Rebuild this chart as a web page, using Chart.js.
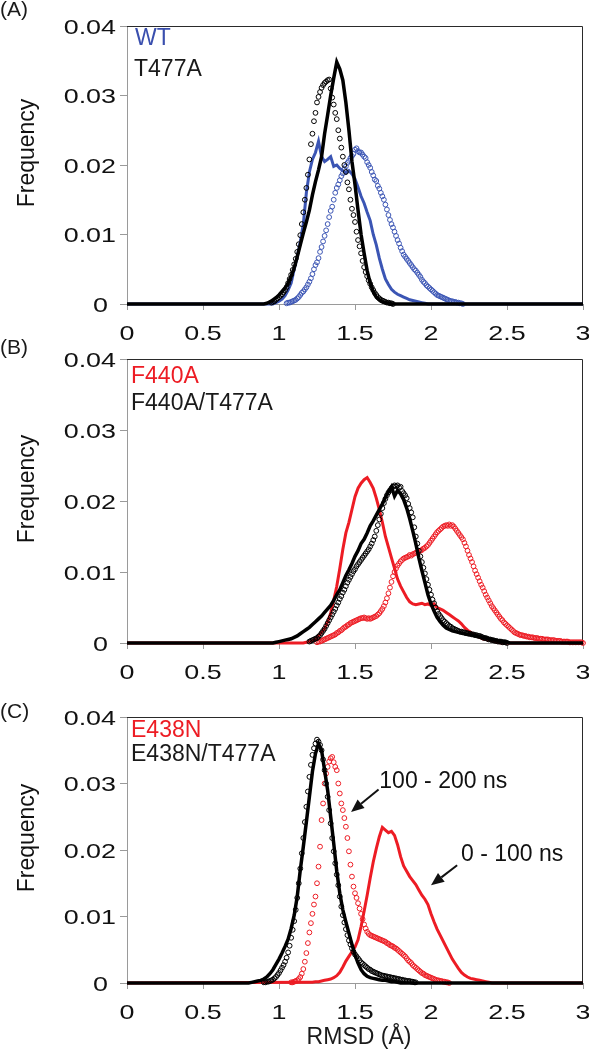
<!DOCTYPE html>
<html>
<head>
<meta charset="utf-8">
<script src="https://cdn.jsdelivr.net/npm/chart.js@4.4.1/dist/chart.umd.min.js"></script>
<style>
  body { margin: 0; background: #fff; }
  #page { position: relative; width: 589px; height: 1050px; font-family: "Liberation Sans", Arial, sans-serif; }
  canvas { position: absolute; left: 0; }
  .txt { position: absolute; font-size: 23px; line-height: 23px; white-space: nowrap; color: #1a1a1a; }
  .tag { font-size: 21px; line-height: 21px; }
  .blue { color: #3a4fae; }
  .red { color: #ed1c24; }
</style>
</head>
<body>
<div id="page">
  <canvas id="chartA" width="589" height="345" style="top:0;width:589px;height:345px"></canvas>
  <canvas id="chartB" width="589" height="345" style="top:340px;width:589px;height:345px"></canvas>
  <canvas id="chartC" width="589" height="360" style="top:690px;width:589px;height:360px"></canvas>

  <div class="txt tag" style="left:0;top:-2px">(A)</div>
  <div class="txt blue" style="left:135px;top:26px">WT</div>
  <div class="txt" style="left:134px;top:57px">T477A</div>

  <div class="txt tag" style="left:0;top:336px">(B)</div>
  <div class="txt red" style="left:131px;top:364px">F440A</div>
  <div class="txt" style="left:131px;top:391px">F440A/T477A</div>

  <div class="txt tag" style="left:0;top:700px">(C)</div>
  <div class="txt red" style="left:131px;top:718px">E438N</div>
  <div class="txt" style="left:131px;top:742px">E438N/T477A</div>

  <div class="txt" style="left:259px;width:200px;text-align:center;top:1025px">RMSD (Å)</div>
</div>

<script>
// axis labels
const xTickLabels = ['0', '0.5', '1', '1.5', '2', '2.5', '3'];
const yTickLabels = ['0', '0.01', '0.02', '0.03', '0.04'];
const rmsdRange = [0, 3];

// histogram bins: lines (0-100 ns) every 0.02 A, circles (100-200 ns) every 0.01 A
// panel A
const wtLineStart = 0.96;
const wtLine = [0, 0.0002, 0.0004, 0.0007, 0.0012, 0.0020, 0.0030, 0.0050, 0.0068, 0.0090,
  0.0115, 0.0160, 0.0190, 0.0208, 0.0218, 0.0234, 0.0212, 0.0205, 0.0208, 0.0212,
  0.0198, 0.0200, 0.0195, 0.0192, 0.0188, 0.0192, 0.0187, 0.0180, 0.0168, 0.0155,
  0.0145, 0.0132, 0.0120, 0.0100, 0.0085, 0.0066, 0.0050, 0.0036, 0.0028, 0.0021,
  0.0017, 0.0014, 0.0012, 0.0010, 0.0008, 0.0006, 0.0005, 0.0004, 0.0003, 0.0002,
  0.0001, 0];
const wtDotsStart = 1.05;
const wtDots = [0.0001, 0.0002, 0.0002, 0.0003, 0.0004, 0.0005, 0.0006, 0.0008, 0.0010, 0.0013,
  0.0016, 0.0018, 0.0021, 0.0024, 0.0028, 0.0032, 0.0037, 0.0043, 0.0050, 0.0056,
  0.0060, 0.0066, 0.0075, 0.0082, 0.0090, 0.0098, 0.0106, 0.0115, 0.0125, 0.0134,
  0.0140, 0.0150, 0.0160, 0.0167, 0.0172, 0.0178, 0.0184, 0.0188, 0.0194, 0.0198,
  0.0203, 0.0206, 0.0210, 0.0213, 0.0216, 0.0222, 0.0224, 0.0220, 0.0218, 0.0218,
  0.0215, 0.0212, 0.0210, 0.0204, 0.0200, 0.0196, 0.0190, 0.0185, 0.0179, 0.0177,
  0.0170, 0.0166, 0.0160, 0.0155, 0.0150, 0.0143, 0.0136, 0.0128, 0.0121, 0.0115,
  0.0110, 0.0104, 0.0098, 0.0092, 0.0087, 0.0081, 0.0076, 0.0071, 0.0068, 0.0065,
  0.0062, 0.0059, 0.0056, 0.0053, 0.0050, 0.0048, 0.0045, 0.0042, 0.0039, 0.0035,
  0.0032, 0.0030, 0.0027, 0.0025, 0.0023, 0.0021, 0.0019, 0.0017, 0.0015, 0.0013,
  0.0012, 0.0011, 0.0010, 0.0009, 0.0008, 0.0007, 0.0006, 0.0005, 0.0004, 0.0004,
  0.0003, 0.0003, 0.0002, 0.0002, 0.0001, 0.0001, 0];
const t477aLineStart = 0.90;
const t477aLine = [0, 0.0001, 0.0003, 0.0006, 0.0009, 0.0013, 0.0018, 0.0023, 0.0030, 0.0040,
  0.0052, 0.0068, 0.0085, 0.0102, 0.0118, 0.0135, 0.0157, 0.0176, 0.0193, 0.0212,
  0.0245, 0.0272, 0.0300, 0.0325, 0.0348, 0.0338, 0.0322, 0.0290, 0.0250, 0.0205,
  0.0172, 0.0135, 0.0100, 0.0073, 0.0048, 0.0030, 0.0018, 0.0010, 0.0006, 0.0003,
  0.0002, 0.0001, 0];
const t477aDotsStart = 0.95;
const t477aDots = [0.0002, 0.0003, 0.0004, 0.0006, 0.0008, 0.0010, 0.0012, 0.0014, 0.0017, 0.0020,
  0.0024, 0.0030, 0.0036, 0.0042, 0.0049, 0.0057, 0.0065, 0.0075, 0.0086, 0.0099,
  0.0115, 0.0132, 0.0150, 0.0167, 0.0186, 0.0208, 0.0230, 0.0245, 0.0263, 0.0275,
  0.0290, 0.0298, 0.0305, 0.0311, 0.0315, 0.0318, 0.0320, 0.0322, 0.0323, 0.0310,
  0.0297, 0.0287, 0.0275, 0.0266, 0.0250, 0.0238, 0.0225, 0.0212, 0.0200, 0.0190,
  0.0175, 0.0165, 0.0150, 0.0137, 0.0128, 0.0118, 0.0104, 0.0092, 0.0083, 0.0073,
  0.0062, 0.0053, 0.0046, 0.0040, 0.0034, 0.0029, 0.0024, 0.0020, 0.0016, 0.0013,
  0.0010, 0.0008, 0.0006, 0.0005, 0.0004, 0.0003, 0.0002, 0.0002, 0.0001, 0.0001, 0];

// panel B
const f440aLineStart = 1.16;
const f440aLine = [0, 0.0001, 0.0002, 0.0003, 0.0006, 0.0010, 0.0015, 0.0020, 0.0030, 0.0042,
  0.0060, 0.0080, 0.0105, 0.0132, 0.0155, 0.0170, 0.0188, 0.0206, 0.0218, 0.0225,
  0.0230, 0.0233, 0.0226, 0.0218, 0.0204, 0.0188, 0.0170, 0.0150, 0.0135, 0.0120,
  0.0105, 0.0090, 0.0080, 0.0072, 0.0064, 0.0058, 0.0055, 0.0054, 0.0055, 0.0056,
  0.0054, 0.0055, 0.0053, 0.0055, 0.0050, 0.0048, 0.0046, 0.0043, 0.0040, 0.0037,
  0.0034, 0.0031, 0.0027, 0.0022, 0.0018, 0.0015, 0.0012, 0.0010, 0.0008, 0.0006,
  0.0005, 0.0004, 0.0003, 0.0002, 0.0001, 0];
const f440aDotsStart = 1.25;
const f440aDots = [0.0001, 0.0002, 0.0002, 0.0003, 0.0004, 0.0005, 0.0006, 0.0007, 0.0008, 0.0009,
  0.0010, 0.0011, 0.0012, 0.0014, 0.0015, 0.0017, 0.0018, 0.0020, 0.0022, 0.0023,
  0.0025, 0.0026, 0.0028, 0.0029, 0.0030, 0.0031, 0.0032, 0.0033, 0.0034, 0.0035,
  0.0035, 0.0036, 0.0035, 0.0034, 0.0035, 0.0034, 0.0035, 0.0036, 0.0037, 0.0038,
  0.0040, 0.0042, 0.0045, 0.0048, 0.0052, 0.0057, 0.0063, 0.0070, 0.0078, 0.0086,
  0.0094, 0.0100, 0.0105, 0.0109, 0.0112, 0.0115, 0.0117, 0.0119, 0.0120, 0.0121,
  0.0122, 0.0124, 0.0123, 0.0125, 0.0126, 0.0127, 0.0128, 0.0129, 0.0130, 0.0131,
  0.0133, 0.0134, 0.0136, 0.0138, 0.0141, 0.0144, 0.0147, 0.0150, 0.0153, 0.0156,
  0.0158, 0.0160, 0.0162, 0.0164, 0.0165, 0.0166, 0.0165, 0.0167, 0.0165, 0.0166,
  0.0164, 0.0161, 0.0158, 0.0155, 0.0152, 0.0149, 0.0146, 0.0141, 0.0136, 0.0130,
  0.0124, 0.0119, 0.0114, 0.0108, 0.0102, 0.0097, 0.0092, 0.0087, 0.0082, 0.0078,
  0.0073, 0.0068, 0.0064, 0.0060, 0.0056, 0.0052, 0.0049, 0.0046, 0.0043, 0.0040,
  0.0037, 0.0034, 0.0032, 0.0029, 0.0027, 0.0025, 0.0023, 0.0021, 0.0019, 0.0017,
  0.0015, 0.0014, 0.0013, 0.0012, 0.0011, 0.0011, 0.0010, 0.0010, 0.0009, 0.0009,
  0.0008, 0.0008, 0.0008, 0.0007, 0.0007, 0.0007, 0.0006, 0.0006, 0.0006, 0.0005,
  0.0005, 0.0005, 0.0005, 0.0004, 0.0004, 0.0004, 0.0004, 0.0003, 0.0003, 0.0003,
  0.0003, 0.0002, 0.0002, 0.0002, 0.0002, 0.0002, 0.0001, 0.0001, 0.0001, 0.0001,
  0.0001, 0.0001, 0.0001, 0.0001, 0.0001, 0];
const f440aT477aLineStart = 0.96;
const f440aT477aLine = [0, 0.0001, 0.0002, 0.0003, 0.0004, 0.0005, 0.0006, 0.0008, 0.0010, 0.0013,
  0.0016, 0.0019, 0.0022, 0.0026, 0.0030, 0.0034, 0.0038, 0.0043, 0.0048, 0.0053,
  0.0060, 0.0068, 0.0075, 0.0085, 0.0095, 0.0103, 0.0112, 0.0122, 0.0130, 0.0140,
  0.0146, 0.0155, 0.0165, 0.0172, 0.0180, 0.0188, 0.0196, 0.0205, 0.0213, 0.0220,
  0.0207, 0.0215, 0.0210, 0.0202, 0.0190, 0.0175, 0.0158, 0.0140, 0.0120, 0.0102,
  0.0085, 0.0068, 0.0055, 0.0045, 0.0036, 0.0030, 0.0025, 0.0021, 0.0019, 0.0017,
  0.0016, 0.0015, 0.0014, 0.0013, 0.0012, 0.0012, 0.0011, 0.0010, 0.0009, 0.0008,
  0.0007, 0.0006, 0.0005, 0.0004, 0.0003, 0.0002, 0.0002, 0.0001, 0];
const f440aT477aDotsStart = 1.20;
const f440aT477aDots = [0.0002, 0.0003, 0.0004, 0.0005, 0.0006, 0.0007, 0.0009, 0.0011, 0.0014, 0.0017,
  0.0020, 0.0024, 0.0028, 0.0032, 0.0036, 0.0040, 0.0044, 0.0048, 0.0053, 0.0057,
  0.0062, 0.0066, 0.0071, 0.0075, 0.0080, 0.0085, 0.0089, 0.0093, 0.0097, 0.0101,
  0.0104, 0.0108, 0.0111, 0.0114, 0.0117, 0.0120, 0.0123, 0.0126, 0.0129, 0.0132,
  0.0136, 0.0140, 0.0145, 0.0150, 0.0158, 0.0166, 0.0174, 0.0182, 0.0190, 0.0197,
  0.0203, 0.0208, 0.0212, 0.0215, 0.0218, 0.0220, 0.0222, 0.0221, 0.0222, 0.0219,
  0.0220, 0.0214, 0.0211, 0.0208, 0.0204, 0.0196, 0.0190, 0.0184, 0.0177, 0.0163,
  0.0150, 0.0140, 0.0130, 0.0122, 0.0114, 0.0106, 0.0098, 0.0090, 0.0082, 0.0075,
  0.0068, 0.0061, 0.0056, 0.0050, 0.0045, 0.0041, 0.0038, 0.0035, 0.0032, 0.0030,
  0.0028, 0.0026, 0.0024, 0.0023, 0.0021, 0.0020, 0.0019, 0.0018, 0.0017, 0.0016,
  0.0016, 0.0015, 0.0015, 0.0014, 0.0014, 0.0013, 0.0013, 0.0012, 0.0012, 0.0011,
  0.0011, 0.0010, 0.0010, 0.0009, 0.0008, 0.0007, 0.0007, 0.0006, 0.0005, 0.0005,
  0.0004, 0.0004, 0.0003, 0.0003, 0.0002, 0.0002, 0.0002, 0.0001, 0.0001, 0.0001, 0];

// panel C
const e438nLineStart = 1.20;
const e438nLine = [0.0001, 0.0001, 0.0002, 0.0002, 0.0003, 0.0004, 0.0005, 0.0006, 0.0008, 0.0011,
  0.0016, 0.0024, 0.0033, 0.0040, 0.0047, 0.0054, 0.0065, 0.0085, 0.0108, 0.0132,
  0.0158, 0.0182, 0.0202, 0.0220, 0.0234, 0.0230, 0.0226, 0.0228, 0.0222, 0.0208,
  0.0190, 0.0176, 0.0168, 0.0160, 0.0154, 0.0148, 0.0140, 0.0132, 0.0126, 0.0118,
  0.0104, 0.0092, 0.0081, 0.0072, 0.0063, 0.0054, 0.0045, 0.0036, 0.0029, 0.0022,
  0.0016, 0.0012, 0.0009, 0.0007, 0.0006, 0.0005, 0.0004, 0.0003, 0.0002, 0.0001, 0];
const e438nDotsStart = 1.08;
const e438nDots = [0.0001, 0.0001, 0.0002, 0.0003, 0.0004, 0.0006, 0.0009, 0.0014, 0.0021, 0.0032,
  0.0045, 0.0060, 0.0076, 0.0090, 0.0104, 0.0118, 0.0130, 0.0150, 0.0175, 0.0205,
  0.0245, 0.0270, 0.0300, 0.0315, 0.0325, 0.0333, 0.0338, 0.0340, 0.0332, 0.0325,
  0.0320, 0.0300, 0.0285, 0.0270, 0.0260, 0.0248, 0.0235, 0.0218, 0.0198, 0.0178,
  0.0160, 0.0145, 0.0135, 0.0128, 0.0120, 0.0112, 0.0104, 0.0096, 0.0088, 0.0082,
  0.0077, 0.0074, 0.0072, 0.0071, 0.0070, 0.0069, 0.0068, 0.0067, 0.0066, 0.0065,
  0.0064, 0.0063, 0.0062, 0.0060, 0.0059, 0.0057, 0.0056, 0.0055, 0.0053, 0.0052,
  0.0050, 0.0048, 0.0046, 0.0044, 0.0042, 0.0040, 0.0037, 0.0034, 0.0032, 0.0030,
  0.0027, 0.0025, 0.0023, 0.0021, 0.0019, 0.0017, 0.0015, 0.0014, 0.0012, 0.0011,
  0.0010, 0.0009, 0.0008, 0.0007, 0.0006, 0.0005, 0.0004, 0.0004, 0.0003, 0.0003,
  0.0002, 0.0002, 0.0001, 0.0001, 0];
const e438nT477aLineStart = 0.80;
const e438nT477aLine = [0, 0.0001, 0.0002, 0.0003, 0.0004, 0.0006, 0.0009, 0.0014, 0.0020, 0.0028,
  0.0036, 0.0045, 0.0055, 0.0066, 0.0082, 0.0102, 0.0130, 0.0170, 0.0205, 0.0242,
  0.0280, 0.0318, 0.0345, 0.0360, 0.0350, 0.0320, 0.0290, 0.0250, 0.0210, 0.0168,
  0.0135, 0.0110, 0.0092, 0.0075, 0.0058, 0.0042, 0.0030, 0.0020, 0.0014, 0.0010,
  0.0008, 0.0007, 0.0006, 0.0005, 0.0004, 0.0004, 0.0003, 0.0002, 0.0002, 0.0001, 0];
const e438nT477aDotsStart = 0.90;
const e438nT477aDots = [0.0001, 0.0001, 0.0002, 0.0002, 0.0003, 0.0004, 0.0005, 0.0007, 0.0009, 0.0012,
  0.0015, 0.0019, 0.0023, 0.0027, 0.0032, 0.0038, 0.0046, 0.0056, 0.0068, 0.0080,
  0.0093, 0.0110, 0.0128, 0.0150, 0.0172, 0.0195, 0.0218, 0.0242, 0.0265, 0.0288,
  0.0310, 0.0328, 0.0343, 0.0353, 0.0360, 0.0366, 0.0363, 0.0358, 0.0350, 0.0336,
  0.0320, 0.0300, 0.0280, 0.0260, 0.0240, 0.0218, 0.0198, 0.0180, 0.0163, 0.0147,
  0.0130, 0.0115, 0.0102, 0.0091, 0.0081, 0.0072, 0.0064, 0.0058, 0.0052, 0.0047,
  0.0043, 0.0040, 0.0037, 0.0034, 0.0031, 0.0029, 0.0027, 0.0025, 0.0023, 0.0021,
  0.0020, 0.0018, 0.0017, 0.0016, 0.0015, 0.0014, 0.0013, 0.0012, 0.0011, 0.0011,
  0.0010, 0.0010, 0.0009, 0.0009, 0.0008, 0.0008, 0.0007, 0.0007, 0.0006, 0.0006,
  0.0005, 0.0005, 0.0004, 0.0004, 0.0003, 0.0003, 0.0003, 0.0002, 0.0002, 0.0001, 0.0001];

// annotations in panel C (data units)
const notesC = [
  { text: '100 - 200 ns', x: 1.66, y: 0.0303, from: [1.655, 0.0291], to: [1.474, 0.0257] },
  { text: '0 - 100 ns', x: 2.197, y: 0.0193, from: [2.172, 0.0177], to: [2.0, 0.0147] }
];

const BLUE = '#3b55b4', RED = '#ed1c24', BLACK = '#000000', AXIS_GRAY = '#9a9a9a';
const FONT = '"Liberation Sans", Arial, sans-serif';
Chart.defaults.font.family = FONT;
Chart.defaults.font.size = 21;
Chart.defaults.color = '#111';

function bins(start, step, ys) {
  return ys.map((y, i) => ({ x: start + i * step, y: y }));
}
function lineSet(start, ys, color, width, order) {
  const pts = [{ x: rmsdRange[0], y: 0 }].concat(bins(start, 0.02, ys), [{ x: rmsdRange[1], y: 0 }]);
  return { data: pts, showLine: true, borderColor: color, borderWidth: width, pointRadius: 0,
    pointHoverRadius: 0, tension: 0, clip: false, order: order };
}
function dotSet(start, ys, color, order) {
  return { data: bins(start, 0.01, ys), showLine: false, borderColor: color, backgroundColor: 'rgba(0,0,0,0)',
    pointRadius: 2.4, pointBorderWidth: 1, pointHoverRadius: 0, clip: false, order: order };
}

const framePlugin = {
  id: 'frame',
  beforeDatasetsDraw(chart) {
    const { ctx, chartArea: a } = chart;
    ctx.save();
    ctx.strokeStyle = '#2a2a2a';
    ctx.lineWidth = 1;
    ctx.beginPath();
    ctx.moveTo(a.left, a.top + 0.5);
    ctx.lineTo(a.right - 0.5, a.top + 0.5);
    ctx.lineTo(a.right - 0.5, a.bottom);
    ctx.stroke();
    ctx.restore();
  }
};

// tick labels in the original are drawn a bit wide, so they get a horizontal stretch
const tickLabelPlugin = {
  id: 'tickLabels',
  afterDraw(chart) {
    const { ctx, chartArea: a, scales: { x, y } } = chart;
    ctx.save();
    ctx.font = '21px ' + FONT;
    ctx.fillStyle = '#111';
    ctx.textBaseline = 'alphabetic';
    x.ticks.forEach((t, i) => {
      ctx.save();
      ctx.translate(x.getPixelForValue(t.value), a.bottom + 36);
      ctx.scale(1.28, 1);
      ctx.textAlign = 'center';
      ctx.fillText(xTickLabels[i], 0, 0);
      ctx.restore();
    });
    y.ticks.forEach((t, i) => {
      const label = yTickLabels[i];
      ctx.save();
      ctx.translate(a.left - 11 - (label.length === 1 ? 8 : 0), y.getPixelForValue(t.value) + 7.5);
      ctx.scale(1.28, 1);
      ctx.textAlign = 'right';
      ctx.fillText(label, 0, 0);
      ctx.restore();
    });
    ctx.restore();
  }
};

const yTitlePlugin = {
  id: 'yTitle',
  afterDraw(chart) {
    const { ctx, chartArea: a } = chart;
    ctx.save();
    ctx.translate(28, (a.top + a.bottom) / 2 - 12);
    ctx.rotate(-Math.PI / 2);
    ctx.font = '23px ' + FONT;
    ctx.fillStyle = '#111';
    ctx.textAlign = 'center';
    ctx.textBaseline = 'middle';
    ctx.fillText('Frequency', 0, 0);
    ctx.restore();
  }
};

const notesPlugin = {
  id: 'notes',
  afterDatasetsDraw(chart, args, opts) {
    if (!opts.items) return;
    const { ctx, scales: { x, y } } = chart;
    ctx.save();
    ctx.font = '23px ' + FONT;
    ctx.fillStyle = '#111';
    ctx.strokeStyle = '#111';
    ctx.textAlign = 'left';
    ctx.textBaseline = 'middle';
    opts.items.forEach(n => {
      ctx.fillText(n.text, x.getPixelForValue(n.x), y.getPixelForValue(n.y));
      const x1 = x.getPixelForValue(n.from[0]), y1 = y.getPixelForValue(n.from[1]);
      const x2 = x.getPixelForValue(n.to[0]), y2 = y.getPixelForValue(n.to[1]);
      const ang = Math.atan2(y2 - y1, x2 - x1);
      const head = 13, half = 5.5;
      const bx = x2 - head * Math.cos(ang), by = y2 - head * Math.sin(ang);
      ctx.lineWidth = 2;
      ctx.beginPath();
      ctx.moveTo(x1, y1);
      ctx.lineTo(bx, by);
      ctx.stroke();
      ctx.beginPath();
      ctx.moveTo(x2, y2);
      ctx.lineTo(bx + half * Math.sin(ang), by - half * Math.cos(ang));
      ctx.lineTo(bx - half * Math.sin(ang), by + half * Math.cos(ang));
      ctx.closePath();
      ctx.fill();
    });
    ctx.restore();
  }
};

function makePanel(id, datasets, top, xHeight, notes) {
  const ctx = document.getElementById(id).getContext('2d');
  return new Chart(ctx, {
    type: 'scatter',
    data: { datasets: datasets },
    options: {
      responsive: false,
      animation: false,
      devicePixelRatio: 1,
      events: [],
      layout: { padding: { top: top, right: 6, left: 0, bottom: 0 } },
      plugins: { legend: { display: false }, tooltip: { enabled: false }, notes: { items: notes } },
      scales: {
        x: {
          type: 'linear', min: rmsdRange[0], max: rmsdRange[1],
          afterFit: s => { s.height = xHeight; },
          ticks: { stepSize: 0.5, autoSkip: false, display: false },
          grid: { drawOnChartArea: false, tickLength: 6, color: AXIS_GRAY },
          border: { color: AXIS_GRAY, width: 1 }
        },
        y: {
          min: 0, max: 0.04,
          afterFit: s => { s.width = 127; },
          ticks: { stepSize: 0.01, display: false },
          grid: { drawOnChartArea: false, tickLength: 7, color: AXIS_GRAY },
          border: { color: AXIS_GRAY, width: 1 }
        }
      }
    },
    plugins: [framePlugin, tickLabelPlugin, yTitlePlugin, notesPlugin]
  });
}

makePanel('chartA', [
  lineSet(t477aLineStart, t477aLine, BLACK, 3.5, 0),
  dotSet(t477aDotsStart, t477aDots, BLACK, 1),
  dotSet(wtDotsStart, wtDots, BLUE, 2),
  lineSet(wtLineStart, wtLine, BLUE, 3, 3)
], 26, 41, null);

makePanel('chartB', [
  lineSet(f440aT477aLineStart, f440aT477aLine, BLACK, 3.5, 0),
  dotSet(f440aT477aDotsStart, f440aT477aDots, BLACK, 1),
  lineSet(f440aLineStart, f440aLine, RED, 3, 2),
  dotSet(f440aDotsStart, f440aDots, RED, 3)
], 19, 42, null);

makePanel('chartC', [
  lineSet(e438nT477aLineStart, e438nT477aLine, BLACK, 3.5, 0),
  dotSet(e438nT477aDotsStart, e438nT477aDots, BLACK, 1),
  dotSet(e438nDotsStart, e438nDots, RED, 2),
  lineSet(e438nLineStart, e438nLine, RED, 3, 3)
], 27, 67, notesC);
</script>
</body>
</html>
